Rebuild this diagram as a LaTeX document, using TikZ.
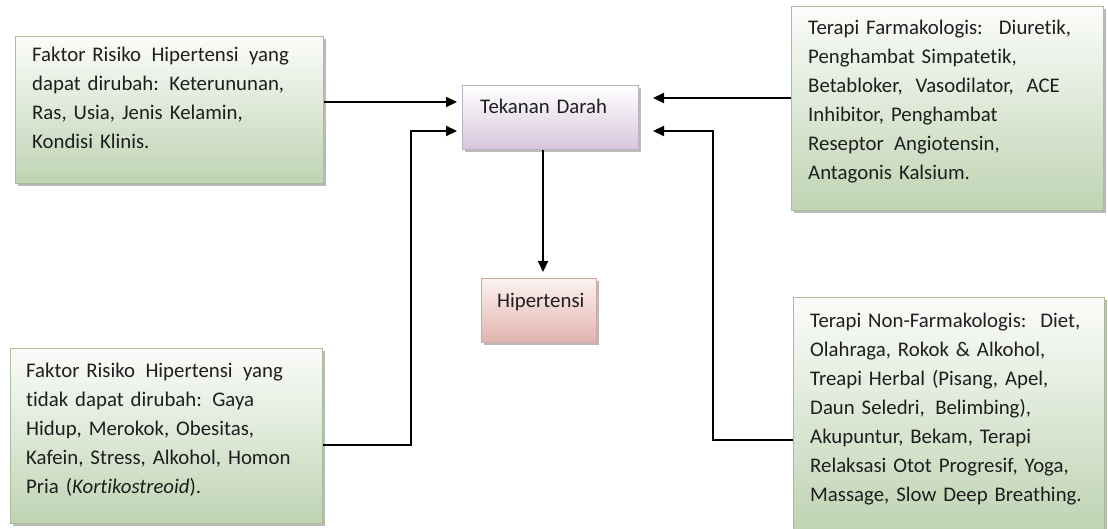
\documentclass[tikz,border=0pt]{standalone}
\usepackage{fontspec}
\setmainfont{Carlito}[Ligatures={NoCommon}]
\usetikzlibrary{arrows.meta,shadows}
\definecolor{gbot}{HTML}{BFD4B3}
\definecolor{gtop}{HTML}{FBFCFA}
\definecolor{gborder}{HTML}{A9BF9C}
\definecolor{pbot}{HTML}{D6C6DB}
\definecolor{pborder}{HTML}{BDB0C4}
\definecolor{rbot}{HTML}{E1B4AE}
\definecolor{rtop}{HTML}{FCF2F0}
\definecolor{rborder}{HTML}{D3A9A3}
\definecolor{txtc}{HTML}{1E1E1E}
\begin{document}
\begin{tikzpicture}[x=1pt,y=-1pt,
  boxbase/.style={line width=1pt, inner sep=0pt, anchor=north west,
    drop shadow={shadow xshift=2pt, shadow yshift=-2.5pt, fill=black!45, opacity=0.6}},
  gbox/.style={boxbase, draw=gborder, top color=gtop, bottom color=gbot},
  pbox/.style={boxbase, draw=pborder, top color=white, bottom color=pbot},
  rbox/.style={boxbase, draw=rborder, top color=rtop, bottom color=rbot},
  txt/.style={inner sep=0pt, anchor=base west, text width=292pt, align=left,
    text=txtc, font=\fontsize{20.8}{29}\selectfont},
  arr/.style={line width=2.2pt, -{Triangle[length=11pt,width=10pt]}}
]
\useasboundingbox (0,0) rectangle (1108,529);

% boxes
\node[gbox, minimum width=308pt, minimum height=147pt] (b1) at (15,36) {};
\node[txt] (t1) at (32,62) {Faktor Risiko\, Hipertensi\, yang\\dapat dirubah: Keterununan,\\Ras, Usia, Jenis Kelamin,\\Kondisi Klinis.};

\node[gbox, minimum width=312pt, minimum height=204pt] (b2) at (791,6) {};
\node[txt] (t2) at (808,35) {Terapi Farmakologis:\; Diuretik,\\Penghambat Simpatetik,\\Betabloker,\; Vasodilator,\; ACE\\Inhibitor, Penghambat\\Reseptor\, Angiotensin,\\Antagonis Kalsium.};

\node[gbox, minimum width=312pt, minimum height=175pt] (b3) at (10,348) {};
\node[txt] (t3) at (26,377) {Faktor Risiko\, Hipertensi\, yang\\tidak dapat dirubah: Gaya\\Hidup, Merokok, Obesitas,\\Kafein, Stress, Alkohol, Homon\\Pria (\textit{Kortikostreoid}).};

\node[gbox, minimum width=311pt, minimum height=232pt] (b4) at (793,297) {};
\node[txt] (t4) at (810,327) {Terapi Non-Farmakologis:\, Diet,\\Olahraga, Rokok \& Alkohol,\\Treapi Herbal (Pisang, Apel,\\Daun Seledri,\, Belimbing),\\Akupuntur, Bekam, Terapi\\Relaksasi Otot Progresif, Yoga,\\Massage, Slow Deep Breathing.};

\node[pbox, minimum width=176pt, minimum height=64pt] (td) at (462,85) {};
\node[txt, text width=150pt] (ttd) at (480,114) {Tekanan Darah};

\node[rbox, minimum width=115pt, minimum height=64pt] (hy) at (481,278) {};
\node[txt, text width=100pt] (thy) at (497,307) {Hipertensi};

% connectors
\draw[arr, shorten >=5pt] (b1.east |- 0,102) -- (td.west |- 0,102);
\draw[arr, shorten >=5pt] (b3.east |- 0,445) -| (411,131) -- (td.west |- 0,131);
\draw[arr, shorten >=14pt] (b2.west |- 0,98) -- (td.east |- 0,98);
\draw[arr, shorten >=14pt] (b4.west |- 0,440) -| (713,131) -- (td.east |- 0,131);
\draw[arr, shorten >=6pt] (td.south -| 543,0) -- (hy.north -| 543,0);
\end{tikzpicture}
\end{document}
